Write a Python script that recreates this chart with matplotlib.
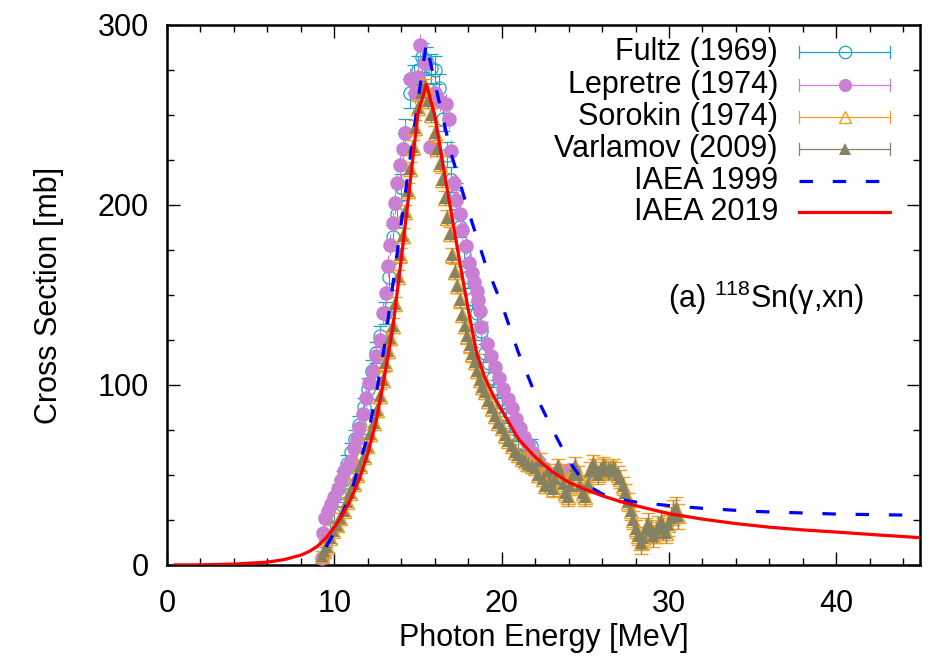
import matplotlib
matplotlib.use("Agg")
import matplotlib.pyplot as plt
from matplotlib.lines import Line2D

plt.rcParams['font.family'] = ['Liberation Sans', 'DejaVu Sans']
plt.rcParams['mathtext.fontset'] = 'custom'
plt.rcParams['mathtext.rm'] = 'Liberation Sans'
plt.rcParams['mathtext.default'] = 'regular'

# ---------------- data ----------------
fultz_e = [9.5, 9.75, 10.0, 10.25, 10.5, 10.75, 11.0, 11.25, 11.5, 11.75, 12.0, 12.25,
           12.5, 12.75, 13.0, 13.25, 13.5, 13.75, 14.0, 14.25, 14.5, 14.75, 15.0, 15.25,
           15.5, 15.75, 16.0, 16.25, 16.5, 16.75, 17.0, 17.25, 17.5, 17.75, 18.0, 18.25,
           18.5, 18.75, 19.0, 19.25, 19.5, 19.75, 20.0, 20.25, 20.5, 20.75, 21.0, 21.25,
           21.5, 21.75, 22.0, 22.25, 22.5, 22.75, 23.0]
fultz_xs = [14, 20, 28, 40, 47, 56, 63, 70, 78, 88, 98, 108,
            118, 127, 140, 160, 182, 195, 210, 240, 262, 270, 275, 282,
            280, 276, 275, 265, 248, 228, 214, 205, 188, 172, 160, 148,
            140, 130, 118, 112, 104, 98, 90, 84, 78, 73, 68, 60,
            56, 66, 58, 55, 52, 50, 48]
fultz_err = [4, 4, 4, 5, 5, 5, 5, 5, 5, 5, 6, 6,
             6, 6, 6, 7, 7, 7, 7, 8, 8, 8, 8, 8,
             8, 8, 8, 8, 7, 7, 7, 7, 6, 6, 6, 6,
             6, 5, 5, 5, 5, 5, 5, 5, 4, 4, 4, 4,
             4, 4, 4, 4, 4, 4, 4]

lepretre_e = [9.25, 9.35, 9.45, 9.6, 9.8, 10.0, 10.2, 10.4, 10.6, 10.8, 11.0, 11.2,
              11.35, 11.5, 11.7, 11.9, 12.1, 12.3, 12.5, 12.7, 12.9, 13.1, 13.2, 13.35,
              13.5, 13.65, 13.75, 13.95, 14.1, 14.25, 14.5, 14.8, 15.0, 15.1, 15.4, 15.7,
              16.0, 16.3, 16.7, 16.85, 17.0, 17.15, 17.3, 17.5, 17.65, 17.85, 18.05, 18.2,
              18.35, 18.5, 18.6, 18.7, 18.75, 19.1, 19.35, 19.6, 19.85, 20.1, 20.35, 20.6,
              20.85, 21.1, 21.35, 21.6, 21.9, 22.2, 22.5, 22.8, 23.1, 23.4, 23.7, 24.0, 24.3]
lepretre_xs = [4, 18, 26, 30, 34, 38, 42, 47, 52, 55, 58, 65,
               70, 76, 84, 93, 101, 108, 116, 125, 140, 151, 166, 178,
               190, 201, 212, 222, 231, 240, 270, 262, 271, 289, 279, 232,
               262, 258, 256, 248, 230, 212, 203, 195, 186, 177, 168, 162,
               157, 152, 147, 141, 132, 123, 116, 110, 104, 98, 92, 87,
               81, 76, 71, 67, 62, 58, 54, 51, 50, 52, 50, 53, 52]
lepretre_err = [3, 4, 4, 4, 4, 4, 4, 5, 5, 5, 5, 5,
                5, 5, 5, 5, 6, 6, 6, 6, 6, 6, 6, 6,
                6, 6, 6, 6, 6, 6, 6, 6, 6, 6, 6, 6,
                6, 6, 6, 6, 6, 6, 6, 5, 5, 5, 5, 5,
                5, 5, 5, 5, 5, 5, 5, 5, 4, 4, 4, 4,
                4, 4, 4, 4, 4, 4, 4, 4, 4, 4, 4, 4, 4]

varlamov_e = [9.25, 9.4, 9.55, 9.75, 9.95, 10.15, 10.35, 10.55, 10.75, 10.95, 11.15, 11.35,
              11.55, 11.75, 11.95, 12.15, 12.35, 12.55, 12.75, 12.9, 13.05, 13.2, 13.35, 13.5,
              13.65, 13.8, 13.95, 14.1, 14.25, 14.4, 14.55, 14.7, 14.85, 15.0, 15.2, 15.4,
              15.6, 15.8, 16.0, 16.15, 16.3, 16.45, 16.6, 16.75, 16.9, 17.05, 17.2, 17.35,
              17.5, 17.65, 17.8, 17.95, 18.1, 18.25, 18.4, 18.55, 18.7, 18.85, 19.0, 19.2,
              19.4, 19.6, 19.8, 20.0, 20.2, 20.4, 20.6, 20.8, 21.0, 21.2, 21.4, 21.6,
              21.8, 22.0, 22.15, 22.3, 22.45, 22.6, 22.75, 22.9, 23.05, 23.2, 23.35, 23.5,
              23.65, 23.8, 23.95, 24.1, 24.25, 24.4, 24.55, 24.7, 24.85, 25.0, 25.15, 25.3,
              25.45, 25.6, 25.75, 25.9, 26.05, 26.2, 26.35, 26.5, 26.65, 26.8, 26.95, 27.1,
              27.25, 27.4, 27.55, 27.7, 27.85, 28.0, 28.15, 28.3, 28.45, 28.6, 28.75, 28.9,
              29.05, 29.2, 29.35, 29.5, 29.65, 29.8, 29.95, 30.1, 30.25, 30.4, 30.55]
varlamov_xs = [5, 8, 10, 15, 19, 22, 26, 30, 35, 40, 45, 50,
               55, 60, 66, 73, 79, 86, 94, 103, 112, 119, 126, 133,
               145, 160, 172, 183, 196, 208, 220, 232, 243, 254, 262, 266,
               258, 250, 240, 231, 223, 214, 204, 193, 184, 172, 163, 155,
               147, 139, 133, 127, 122, 117, 113, 108, 103, 99, 96, 91,
               87, 83, 79, 76, 72, 69, 66, 63, 61, 59, 58, 56,
               55, 54, 50, 58, 48, 44, 52, 46, 42, 48, 55, 52,
               45, 40, 38, 44, 50, 55, 50, 44, 40, 38, 45, 52,
               56, 54, 50, 52, 55, 54, 52, 53, 54, 52, 50, 48,
               44, 40, 35, 30, 25, 20, 16, 12, 15, 20, 23, 19,
               16, 18, 21, 24, 20, 18, 22, 26, 29, 31, 27]
varlamov_err = [3, 3, 3, 3, 3, 3, 3, 3, 3, 3, 3, 3,
                3, 3, 3, 4, 4, 4, 4, 4, 4, 4, 4, 4,
                4, 4, 4, 4, 4, 4, 4, 4, 4, 4, 4, 4,
                4, 4, 4, 4, 4, 4, 4, 4, 4, 4, 4, 4,
                4, 4, 4, 4, 4, 4, 4, 4, 4, 4, 4, 4,
                4, 4, 4, 4, 4, 4, 4, 4, 4, 4, 4, 4,
                4, 4, 4, 4, 4, 4, 4, 4, 4, 4, 4, 4,
                5, 5, 5, 5, 5, 5, 5, 5, 5, 5, 5, 5,
                5, 5, 5, 5, 5, 5, 5, 5, 5, 5, 5, 5,
                5, 5, 5, 5, 5, 5, 5, 6, 6, 6, 6, 6,
                6, 6, 6, 6, 6, 6, 6, 6, 7, 7, 7]

# Sorokin (1974) points coincide with Varlamov (2009) in the picture
sorokin_e = list(varlamov_e)
sorokin_xs = list(varlamov_xs)
sorokin_err = list(varlamov_err)

iaea1999_e = [9.5, 10.0, 11.0, 12.0, 12.5, 13.0, 14.0, 15.0, 15.5, 16.0, 17.0, 18.0,
              19.0, 20.0, 21.0, 22.0, 23.0, 24.0, 25.0, 26.0, 27.0, 28.0, 30.0, 32.0,
              35.0, 40.0, 45.0]
iaea1999_xs = [10, 18, 40, 72, 95, 122, 190, 258, 290, 268, 228, 197,
               168, 145, 118, 95, 76, 58, 45, 39.5, 36.5, 35, 33, 31.5,
               29.8, 28.3, 27.6]

iaea2019_e = [0.5, 2, 4, 6, 7, 8, 8.5, 9, 9.5, 10, 10.5, 11,
              11.5, 12, 12.5, 13, 13.5, 14, 14.5, 15, 15.5, 16, 16.5, 17,
              17.5, 18, 18.5, 19, 19.5, 20, 21, 22, 23, 24, 25, 26,
              27, 28, 30, 32, 34, 36, 38, 40, 42, 45]
iaea2019_xs = [0.05, 0.1, 0.5, 1.6, 3, 5.5, 7.5, 10.5, 15, 21, 28, 37,
               48, 62, 80, 105, 132, 170, 210, 251, 267, 250, 222, 195,
               168, 142, 118, 104, 94, 86, 70, 60, 52, 46, 42, 38.5,
               35.5, 33, 28.5, 25.5, 23, 21, 19.5, 18.3, 17, 15.2]

labels = ['Fultz (1969)', 'Lepretre (1974)', 'Sorokin (1974)', 'Varlamov (2009)',
          'IAEA 1999', 'IAEA 2019']

# ---------------- styles ----------------
c_fultz = '#1aa3c4'
c_lep = '#c97fd4'
c_sor = '#f0a020'
c_var = '#858261'
c_blue = '#0000ff'
c_red = '#ff0000'
FS = 22

W, H = 938, 658
fig = plt.figure(figsize=(W / 100, H / 100), dpi=100)
ax = fig.add_axes([167 / W, 1 - 565 / H, (920 - 167) / W, (565 - 25) / H])

cap = 5.0
ax.errorbar(fultz_e, fultz_xs, yerr=fultz_err, fmt='o', ms=9.5, mfc='none', mec=c_fultz,
            mew=0.9, color=c_fultz, ecolor=c_fultz, elinewidth=0.8, capsize=cap, capthick=0.8,
            zorder=2)
ax.errorbar(lepretre_e, lepretre_xs, yerr=lepretre_err, fmt='o', ms=10.5, mfc=c_lep, mec=c_lep,
            mew=0, color=c_lep, ecolor=c_lep, elinewidth=0.8, capsize=cap, capthick=0.8, zorder=3)
ax.errorbar(sorokin_e, sorokin_xs, yerr=sorokin_err, fmt='^', ms=10, mfc='none', mec=c_sor,
            mew=1.0, color=c_sor, ecolor=c_sor, elinewidth=0.6, capsize=cap, capthick=0.6, zorder=4)
ax.errorbar(varlamov_e, varlamov_xs, yerr=varlamov_err, fmt='^', ms=9, mfc=c_var, mec=c_var,
            mew=0, color=c_var, ecolor=c_var, elinewidth=1.0, capsize=cap, capthick=1.0, zorder=5)
ax.plot(iaea1999_e, iaea1999_xs, color=c_blue, lw=2.3, dashes=(4.2, 6.2), zorder=6)
ax.plot(iaea2019_e, iaea2019_xs, color=c_red, lw=2.3, zorder=7)

ax.set_xlim(0, 45)
ax.set_ylim(0, 300)
ax.set_xticks([0, 10, 20, 30, 40])
ax.set_xticks([v for v in range(0, 46, 2) if v % 10], minor=True)
ax.set_yticks([0, 100, 200, 300])
ax.set_yticks([25, 50, 75, 125, 150, 175, 225, 250, 275], minor=True)
ax.tick_params(which='both', direction='in', top=True, right=True, width=1.0, color='black')
ax.tick_params(which='major', length=9.5, labelsize=FS)
ax.tick_params(axis='x', which='major', pad=17)
ax.tick_params(axis='y', which='major', pad=13)
ax.tick_params(which='minor', length=5)
for s in ax.spines.values():
    s.set_linewidth(1.8)

ax.set_xlabel('Photon Energy [MeV]', fontsize=FS)
ax.set_ylabel('Cross Section [mb]', fontsize=FS)
ax.xaxis.set_label_coords(0.5, -0.107)
ax.yaxis.set_label_coords(-0.137, 0.5)

ax.text(0.665, 0.494, '(a) $^{118}$Sn(γ,xn)', transform=ax.transAxes, fontsize=FS,
        ha='left', va='center')

# ---------------- legend (gnuplot style: text right, sample left) ----------------
tx = (778 - 167) / 753
lx0 = (799 - 167) / 753
lx1 = (890 - 167) / 753
mx = (845 - 167) / 753
rows_px = [52, 85, 117, 148.5, 181, 212]
styles = [
    dict(kind='err', color=c_fultz, marker='o', mfc='none', ms=9, mew=0.9),
    dict(kind='err', color=c_lep, marker='o', mfc=c_lep, ms=9.5, mew=0),
    dict(kind='err', color=c_sor, marker='^', mfc='none', ms=9, mew=1.0),
    dict(kind='err', color=c_var, marker='^', mfc=c_var, ms=8.5, mew=0),
    dict(kind='dash', color=c_blue),
    dict(kind='solid', color=c_red),
]
capy = 6 / 540
for lab, ypx, st in zip(labels, rows_px, styles):
    y = (565 - ypx) / 540
    ax.text(tx, y, lab, transform=ax.transAxes, fontsize=FS, ha='right', va='center')
    if st['kind'] == 'err':
        ax.add_line(Line2D([lx0, lx1], [y, y], transform=ax.transAxes, color=st['color'], lw=0.9))
        for xx in (lx0, lx1):
            ax.add_line(Line2D([xx, xx], [y - capy, y + capy], transform=ax.transAxes,
                               color=st['color'], lw=0.9))
        ax.add_line(Line2D([mx], [y], transform=ax.transAxes, marker=st['marker'],
                           mfc=st['mfc'], mec=st['color'], ms=st['ms'], mew=st['mew'],
                           linestyle='none'))
    elif st['kind'] == 'dash':
        ax.add_line(Line2D([lx0, lx1], [y, y], transform=ax.transAxes, color=st['color'],
                           lw=2.3, dashes=(4.2, 6.2)))
    else:
        ax.add_line(Line2D([lx0, lx1], [y, y], transform=ax.transAxes, color=st['color'],
                           lw=2.3))

fig.savefig('out.png', dpi=100)
